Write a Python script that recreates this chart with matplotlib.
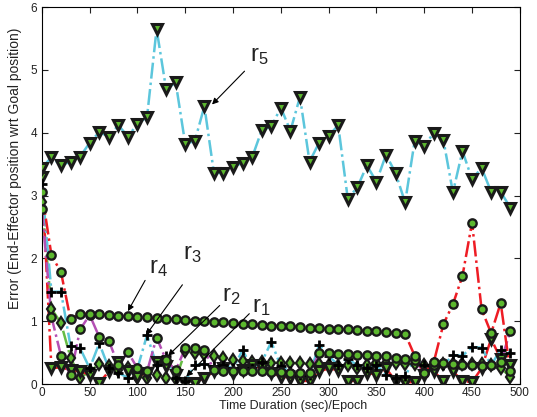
import numpy as np
import matplotlib
matplotlib.use('Agg')
import matplotlib.pyplot as plt

plt.rcParams['font.family'] = ['Liberation Sans', 'DejaVu Sans']
plt.rcParams['mathtext.default'] = 'regular'

# time axis (epochs)
t = np.arange(0, 500, 10)

# r5 - cyan line, triangle markers (top curve)
r5 = [3.44, 3.61, 3.48, 3.54, 3.62, 3.84, 4.01, 3.94, 4.12, 3.94,
      4.14, 4.25, 5.65, 4.69, 4.80, 3.82, 3.87, 4.42, 3.36, 3.36,
      3.46, 3.52, 3.61, 4.04, 4.10, 4.40, 4.03, 4.57, 3.54, 3.84,
      3.95, 4.12, 2.95, 3.13, 3.48, 3.22, 3.65, 3.36, 2.89, 3.87,
      3.79, 4.00, 3.89, 3.05, 3.71, 3.26, 3.44, 3.06, 3.06, 2.81]

# r4 - red line, circles
r4 = [3.05, 2.05, 1.78, 1.03, 1.12, 1.12, 1.11, 1.10, 1.09, 1.08,
      1.07, 1.06, 1.05, 1.04, 1.03, 1.02, 1.01, 1.00, 0.99, 0.98,
      0.97, 0.96, 0.95, 0.94, 0.93, 0.93, 0.92, 0.91, 0.90, 0.89,
      0.88, 0.88, 0.87, 0.86, 0.85, 0.84, 0.83, 0.82, 0.80, 0.45,
      0.18, 0.35, 0.95, 1.27, 1.72, 2.57, 1.19, 0.81, 1.29, 0.20]

# r2 - magenta line, circles
r2 = [2.78, 1.07, 0.45, 0.14, 0.87, 1.10, 0.75, 0.69, 0.30, 0.51,
      0.25, 0.20, 0.74, 0.38, 0.22, 0.57, 0.57, 0.55, 0.22, 0.21,
      0.21, 0.20, 0.20, 0.20, 0.19, 0.19, 0.18, 0.17, 0.17, 0.49,
      0.49, 0.48, 0.48, 0.47, 0.46, 0.45, 0.44, 0.42, 0.40, 0.38,
      0.18, 0.30, 0.33, 0.32, 0.30, 0.30, 0.28, 0.30, 0.35, 0.84]

# r3 - cyan line, plus markers
r3 = [3.18, 1.47, 1.47, 0.60, 0.57, 0.25, 0.65, 0.25, 0.18, 0.10,
      0.25, 0.78, 0.30, 0.45, 0.10, 0.05, 0.30, 0.32, 0.28, 0.30,
      0.25, 0.54, 0.25, 0.35, 0.67, 0.28, 0.20, 0.15, 0.15, 0.62,
      0.45, 0.30, 0.40, 0.30, 0.25, 0.30, 0.15, 0.10, 0.13, 0.40,
      0.30, 0.35, 0.30, 0.46, 0.45, 0.59, 0.58, 0.30, 0.55, 0.50]

# r1 - red line, triangle markers (bottom)
r1 = [3.30, 0.25, 0.27, 0.22, 0.20, 0.15, 0.02, 0.20, 0.35, 0.20,
      0.12, 0.18, 0.35, 0.28, 0.15, 0.02, 0.02, 0.10, 0.20, 0.25,
      0.18, 0.22, 0.30, 0.25, 0.18, 0.12, 0.10, 0.05, 0.05, 0.20,
      0.25, 0.22, 0.05, 0.05, 0.18, 0.15, 0.25, 0.05, 0.03, 0.03,
      0.15, 0.20, 0.05, 0.20, 0.05, 0.03, 0.25, 0.72, 0.40, 0.30]

# green line, diamond markers
rd = [2.90, 1.20, 0.97, 0.42, 0.10, 0.20, 0.32, 0.28, 0.22, 0.25,
      0.12, 0.10, 0.15, 0.10, 0.08, 0.52, 0.50, 0.48, 0.45, 0.42,
      0.38, 0.36, 0.35, 0.35, 0.34, 0.34, 0.33, 0.33, 0.32, 0.32,
      0.30, 0.28, 0.30, 0.25, 0.30, 0.33, 0.33, 0.33, 0.32, 0.32,
      0.30, 0.30, 0.32, 0.32, 0.32, 0.32, 0.32, 0.30, 0.25, 0.12]

green = '#5cb82e'
edge = '#1a1a1a'
cyan = '#5cc6dc'
red = '#ee1c24'
mag = '#b450b4'
lgreen = '#66bb44'
txtc = '#222222'

fig = plt.figure(figsize=(5.37, 4.17), dpi=100)
ax = fig.add_axes([0.078, 0.079, 0.89, 0.904])

series = [
    (rd, lgreen, 'd', 6.5, 1.6),
    (r1, red, 'v', 7, 2.2),
    (r3, cyan, None, 0, 0),
    (r2, mag, 'o', 6, 1.7),
    (r4, red, 'o', 6, 1.7),
    (r5, cyan, 'v', 7.5, 2.2),
]
for y, c, m, ms, mw in series:
    ax.plot(t, y, '-.', color=c, lw=1.8, zorder=2)
for y, c, m, ms, mw in series:
    if m is None:
        ax.plot(t, y, '+', color='k', ms=6.5, mew=2, zorder=3)
    else:
        ax.plot(t, y, m, ms=ms, mfc=green, mec=edge, mew=mw, zorder=3)

ax.set_xlim(0, 500)
ax.set_ylim(0, 6)
ax.set_xticks(range(0, 501, 50))
ax.set_yticks(range(0, 7))
ax.tick_params(direction='in', top=True, right=True, length=4, labelsize=8.5, colors=txtc)
ax.tick_params(axis='x', pad=2)
ax.set_xlabel('Time Duration (sec)/Epoch', fontsize=9, color=txtc)
ax.set_ylabel('Error (End-Effector position wrt Goal position)', fontsize=10, color=txtc)
ax.xaxis.set_label_coords(0.525, -0.043)
ax.yaxis.set_label_coords(-0.042, 0.573)

ap = dict(arrowstyle='-|>', color='k', lw=0.8, mutation_scale=9, shrinkA=0, shrinkB=0)
labels = [('r$_5$', (178, 4.45), (212, 4.98), (218, 5.05)),
          ('r$_4$', (90, 1.16), (108, 1.65), (112, 1.68)),
          ('r$_3$', (109, 0.78), (147, 1.58), (148, 1.90)),
          ('r$_2$', (132, 0.45), (186, 1.25), (188, 1.22)),
          ('r$_1$', (151, 0.12), (217, 1.12), (220, 1.05))]
for txt, head, tail, pos in labels:
    ax.annotate('', xy=head, xytext=tail, arrowprops=ap, zorder=5)
    ax.text(pos[0], pos[1], txt, fontsize=17, color=txtc, va='bottom', ha='left', zorder=5)

fig.savefig('out.png', dpi=100)
